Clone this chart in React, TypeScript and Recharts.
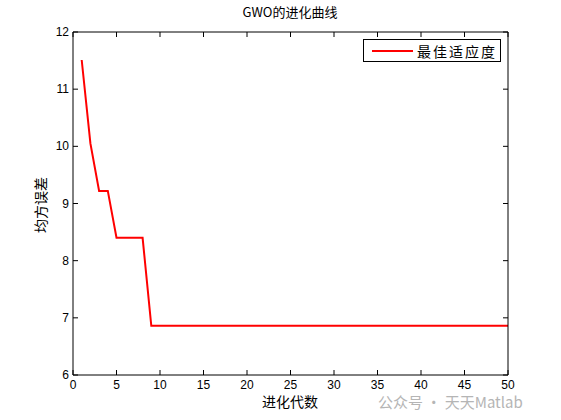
import React from 'react';
import { LineChart, Line, XAxis, YAxis } from 'recharts';

const generations = [
  1, 2, 3, 4, 5, 6, 7, 8, 9, 10, 11, 12, 13, 14, 15, 16, 17, 18, 19, 20, 21, 22, 23, 24, 25,
  26, 27, 28, 29, 30, 31, 32, 33, 34, 35, 36, 37, 38, 39, 40, 41, 42, 43, 44, 45, 46, 47, 48, 49, 50,
];
const bestFitness = [
  11.51, 10.05, 9.22, 9.22, 8.4, 8.4, 8.4, 8.4, 6.86, 6.86, 6.86, 6.86, 6.86, 6.86, 6.86, 6.86, 6.86,
  6.86, 6.86, 6.86, 6.86, 6.86, 6.86, 6.86, 6.86, 6.86, 6.86, 6.86, 6.86, 6.86, 6.86, 6.86, 6.86, 6.86,
  6.86, 6.86, 6.86, 6.86, 6.86, 6.86, 6.86, 6.86, 6.86, 6.86, 6.86, 6.86, 6.86, 6.86, 6.86, 6.86,
];
const xTicks = [0, 5, 10, 15, 20, 25, 30, 35, 40, 45, 50];
const yTicks = [6, 7, 8, 9, 10, 11, 12];
const title = 'GWO的进化曲线';
const xLabel = '进化代数';
const yLabel = '均方误差';
const seriesName = '最佳适应度';
const watermark = '公众号 · 天天Matlab';

const data = generations.map((g, i) => ({ gen: g, value: bestFitness[i] }));

const TICK_FONT = 'Arial, "Liberation Sans", sans-serif';
const CJK_FONT = '"Noto Sans CJK SC", sans-serif';

const BottomTick = (props: any) => {
  const { x, y, payload } = props;
  return (
    <g>
      <line x1={x} y1={y} x2={x} y2={y - 5} stroke="#000" strokeWidth={1} />
      <text x={x} y={y + 14} textAnchor="middle" fontSize={12} fontFamily={TICK_FONT} fill="#000">
        {payload.value}
      </text>
    </g>
  );
};

const TopTick = (props: any) => {
  const { x, y } = props;
  return <line x1={x} y1={y} x2={x} y2={y + 5} stroke="#000" strokeWidth={1} />;
};

const LeftTick = (props: any) => {
  const { x, y, payload } = props;
  return (
    <g>
      <line x1={x} y1={y} x2={x + 5} y2={y} stroke="#000" strokeWidth={1} />
      <text x={x - 4} y={y + 4} textAnchor="end" fontSize={12} fontFamily={TICK_FONT} fill="#000">
        {payload.value}
      </text>
    </g>
  );
};

const RightTick = (props: any) => {
  const { x, y } = props;
  return <line x1={x} y1={y} x2={x - 5} y2={y} stroke="#000" strokeWidth={1} />;
};

export default function App() {
  return (
    <div style={{ position: 'absolute', left: 0, top: 0, width: 561, height: 420, background: '#fff' }}>
      <LineChart
        width={561}
        height={420}
        data={data}
        margin={{ top: 31, right: 52, bottom: 15, left: 43 }}
      >
        <XAxis
          dataKey="gen"
          type="number"
          domain={[0, 50]}
          ticks={xTicks}
          interval={0}
          tickSize={0}
          tickMargin={0}
          height={30}
          axisLine={{ stroke: '#000', strokeWidth: 1 }}
          tickLine={false}
          tick={BottomTick}
        />
        <XAxis
          xAxisId="top"
          orientation="top"
          dataKey="gen"
          type="number"
          domain={[0, 50]}
          ticks={xTicks}
          interval={0}
          tickSize={0}
          tickMargin={0}
          height={1}
          axisLine={{ stroke: '#000', strokeWidth: 1 }}
          tickLine={false}
          tick={TopTick}
        />
        <YAxis
          type="number"
          domain={[6, 12]}
          ticks={yTicks}
          interval={0}
          tickSize={0}
          tickMargin={0}
          width={30}
          axisLine={{ stroke: '#000', strokeWidth: 1 }}
          tickLine={false}
          tick={LeftTick}
        />
        <YAxis
          yAxisId="right"
          orientation="right"
          type="number"
          domain={[6, 12]}
          ticks={yTicks}
          interval={0}
          tickSize={0}
          tickMargin={0}
          width={1}
          axisLine={{ stroke: '#000', strokeWidth: 1 }}
          tickLine={false}
          tick={RightTick}
        />
        <Line
          type="linear"
          dataKey="value"
          name={seriesName}
          stroke="#ff0000"
          strokeWidth={2}
          dot={false}
          isAnimationActive={false}
        />
        <Line
          xAxisId="top"
          yAxisId="right"
          type="linear"
          dataKey="value"
          stroke="none"
          strokeWidth={0}
          dot={false}
          legendType="none"
          isAnimationActive={false}
        />
      </LineChart>

      <div
        style={{
          position: 'absolute', left: 240, width: 100, top: 3, textAlign: 'center',
          fontFamily: CJK_FONT, fontSize: 13, color: '#000', lineHeight: '18px',
        }}
      >
        {title}
      </div>
      <div
        style={{
          position: 'absolute', left: 250, width: 80, top: 391, textAlign: 'center',
          fontFamily: CJK_FONT, fontSize: 14, color: '#000', lineHeight: '20px',
        }}
      >
        {xLabel}
      </div>
      <div
        style={{
          position: 'absolute', left: 40, top: 205, width: 0, height: 0,
        }}
      >
        <div
          style={{
            position: 'absolute', transform: 'translate(-50%, -50%) rotate(-90deg)',
            whiteSpace: 'nowrap', fontFamily: CJK_FONT, fontSize: 14, color: '#000', lineHeight: '20px',
          }}
        >
          {yLabel}
        </div>
      </div>
      <div
        style={{
          position: 'absolute', left: 363, top: 39, width: 138, height: 23, boxSizing: 'border-box',
          border: '1px solid #000', background: '#fff', display: 'flex', alignItems: 'center',
        }}
      >
        <div style={{ marginLeft: 8, width: 41, height: 2, background: '#ff0000' }} />
        <div style={{ marginLeft: 4, fontFamily: CJK_FONT, fontSize: 14, letterSpacing: 2, color: '#000', lineHeight: '20px' }}>
          {seriesName}
        </div>
      </div>
      <div
        style={{
          position: 'absolute', left: 378, top: 393, fontFamily: CJK_FONT, fontSize: 15,
          color: '#b5b5b5', whiteSpace: 'nowrap', lineHeight: '18px',
        }}
      >
        {watermark}
      </div>
    </div>
  );
}
